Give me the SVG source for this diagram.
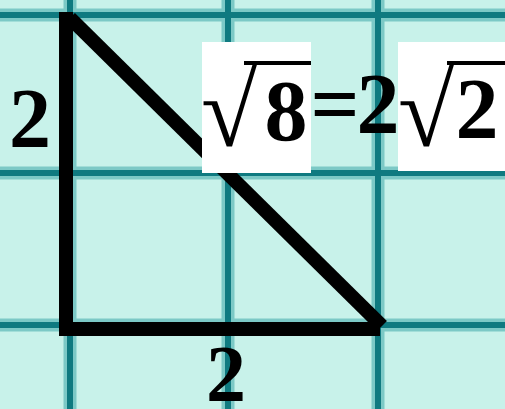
<svg xmlns="http://www.w3.org/2000/svg" width="505" height="409" viewBox="0 0 505 409">
<style>
.halo{stroke:#7cc9c6;stroke-width:13;fill:none}
.grid{stroke:#0f7a80;stroke-width:6;fill:none}
.tri{stroke:#000;stroke-width:14;fill:none;stroke-linejoin:miter;stroke-linecap:butt}
.t{font-family:"Liberation Serif","Times New Roman",serif;font-weight:bold;fill:#000}
.r{font-family:"Liberation Serif","Times New Roman",serif;font-weight:normal;fill:#000}
.box{fill:#fff}
</style>
<rect width="505" height="409" fill="#c8f2ea"/>
<g id="grid">
<path class="halo" d="M70 0V409M228 0V409M378 0V409M0 15H505M0 173H505M0 325H505"/>
<path class="grid" d="M70 0V409M228 0V409M378 0V409M0 15H505M0 173H505M0 325H505"/>
</g>
<g id="triangle">
<path class="tri" d="M66 12V329H380"/>
<path class="tri" d="M70 18L382 326"/>
</g>
<g id="label-left"><text class="t" x="30" y="147" font-size="84" text-anchor="middle">2</text></g>
<g id="label-bottom"><text class="t" x="226" y="401" font-size="80" text-anchor="middle">2</text></g>
<g id="label-hyp">
<rect class="box" x="202" y="42" width="109" height="131"/>
<rect class="box" x="398" y="42" width="107" height="129"/>
<text class="r" x="201" y="146" font-size="102">√</text>
<line x1="244" y1="63" x2="311" y2="63" stroke="#000" stroke-width="4"/>
<text class="t" x="286" y="140" font-size="86" text-anchor="middle">8</text>
<text class="t" x="335" y="133" font-size="86" text-anchor="middle">=</text>
<text class="t" x="378" y="133" font-size="86" text-anchor="middle">2</text>
<text class="r" x="398" y="146" font-size="102">√</text>
<line x1="447" y1="63" x2="505" y2="63" stroke="#000" stroke-width="4"/>
<text class="t" x="477" y="138" font-size="86" text-anchor="middle">2</text>
</g>
</svg>
